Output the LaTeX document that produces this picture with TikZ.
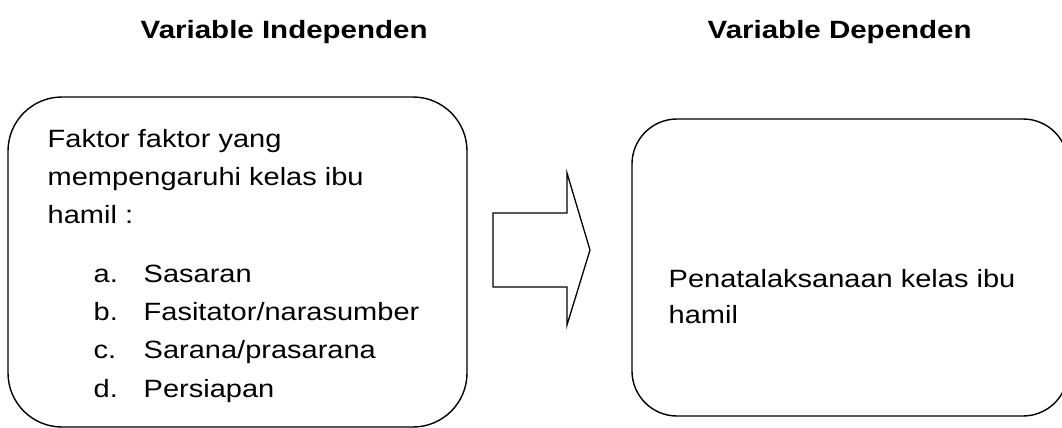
\documentclass[tikz,border=0pt]{standalone}
\usepackage{fontspec}
\newfontfamily\bodyfont[FakeStretch=1.16]{Liberation Sans}
\newfontfamily\headfont[FakeStretch=1.18]{Liberation Sans}
\usepackage{tikz}
\usetikzlibrary{positioning}

\begin{document}
\begin{tikzpicture}[x=1pt, y=-1pt, line width=1.4pt,
  every node/.style={inner sep=0pt, anchor=base west},
  varbox/.style={draw, anchor=center, minimum width=#1},
  heading/.style={font=\headfont\fontsize{25}{30}\selectfont\bfseries},
  body/.style={font=\bodyfont\fontsize{25}{30}\selectfont}]
  \useasboundingbox (0,0) rectangle (1062,428);
  % headings
  \node[heading] (indep) at (140,38) {Variable Independen};
  \node[heading] (dep) at (707,38) {Variable Dependen};
  % boxes
  \node[varbox=459pt, minimum height=330pt, rounded corners=54pt] (factors) at (237.5,262) {};
  \node[varbox=436pt, minimum height=297pt, rounded corners=45pt] (result) at (850,267.5) {};
  % left box text
  \node[body] (f1) at (47,147) {Faktor faktor yang};
  \node[body] (f2) at (47,185) {mempengaruhi kelas ibu};
  \node[body] (f3) at (47,223) {hamil :};
  \node[body] (la) at (93,282) {a.};
  \node[body] (lb) at (93,320) {b.};
  \node[body] (lc) at (93,358) {c.};
  \node[body] (ld) at (93,397) {d.};
  \node[body] (ta) at (143,282) {Sasaran};
  \node[body] (tb) at (143,320) {Fasitator/narasumber};
  \node[body] (tc) at (143,358) {Sarana/prasarana};
  \node[body] (td) at (143,397) {Persiapan};
  % right box text
  \node[body] (r1) at (668,287) {Penatalaksanaan kelas ibu};
  \node[body] (r2) at (668,323) {hamil};
  % block arrow
  \coordinate (tail) at (493,250);
  \draw[line width=1.3pt, line join=miter] (tail) ++(0,-37) -- ++(74,0) -- ++(0,-40)
    -- (590,250) -- (567,325) -- ++(0,-38) -- ++(-74,0) -- cycle;
\end{tikzpicture}
\end{document}
